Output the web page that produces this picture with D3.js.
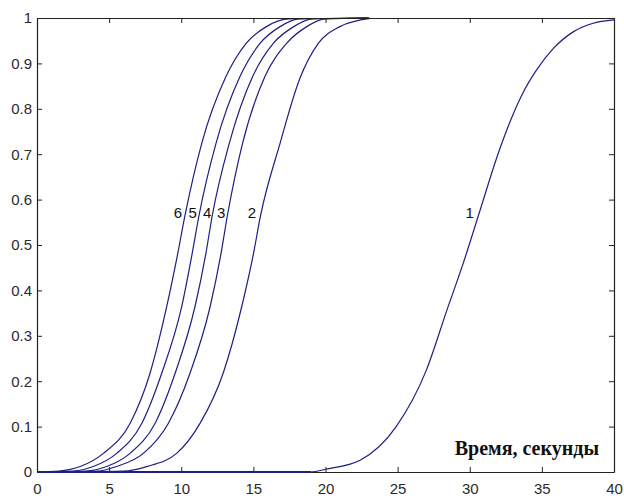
<!DOCTYPE html>
<html>
<head>
<meta charset="utf-8">
<script src="https://cdn.jsdelivr.net/npm/d3@7"></script>
<style>
  body { margin: 0; background: #fff; }
  svg { display: block; }
  .tick text { font-family: "Liberation Sans", Arial, sans-serif; font-size: 15px; fill: #2a2a2a; }
</style>
</head>
<body>
<div id="chart"></div>
<script>
// time (s), probability, one array per curve
var curve1 = [[0,0],[19,0],[20,0.006],[22.4,0.026],[24.9,0.1],[27,0.225],[28.4,0.355],[29.55,0.46],[30.7,0.575],[31.9,0.695],[32.8,0.772],[33.7,0.836],[34.6,0.884],[35.8,0.933],[37.2,0.97],[38.5,0.988],[40,0.996]];
var curve2 = [[0,0],[6,0.002],[7.6,0.012],[9.68,0.041],[11.3,0.107],[12.9,0.217],[14.19,0.364],[15,0.48],[15.5,0.565],[16.85,0.724],[18.2,0.865],[19.5,0.944],[21,0.981],[23.1,0.999]];
var curve3 = [[0,0],[4.2,0.002],[5.5,0.012],[7.37,0.041],[9.1,0.107],[10.6,0.217],[12,0.364],[12.75,0.48],[13.2,0.565],[14.25,0.724],[15.8,0.871],[17.3,0.944],[18.7,0.981],[20,0.998],[23,1]];
var curve4 = [[0,0],[3.4,0.002],[4.83,0.012],[6.45,0.041],[8.18,0.107],[9.57,0.217],[10.95,0.364],[11.7,0.48],[12.15,0.565],[13.33,0.724],[14.95,0.871],[16.38,0.944],[17.8,0.981],[19.1,0.998],[23,1]];
var curve5 = [[0,0],[2.5,0.002],[3.9,0.012],[5.52,0.041],[7.26,0.107],[8.64,0.217],[10.03,0.364],[10.75,0.48],[11.23,0.565],[12.41,0.724],[14.07,0.871],[15.46,0.944],[16.85,0.981],[18.2,0.998],[23,1]];
var curve6 = [[0,0],[1.5,0.002],[3,0.012],[4.6,0.041],[6.45,0.107],[7.83,0.217],[8.99,0.364],[9.75,0.48],[10.26,0.565],[11.42,0.724],[13.1,0.871],[14.5,0.944],[15.9,0.981],[17.5,0.998],[23,1]];
var curves = [curve1, curve2, curve3, curve4, curve5, curve6];

var curveLabels = ["1", "2", "3", "4", "5", "6"];
var labelX = [30.0, 14.9, 12.76, 11.8, 10.8, 9.77];
var labelY = 0.57;

var xTicks = [0, 5, 10, 15, 20, 25, 30, 35, 40];
var yTicks = [0, 0.1, 0.2, 0.3, 0.4, 0.5, 0.6, 0.7, 0.8, 0.9, 1];
var axisTitle = "Время, секунды";

var width = 624, height = 498;
var margin = {top: 18, right: 10, bottom: 26, left: 37};
var x0 = margin.left, x1 = width - margin.right, y0 = height - margin.bottom, y1 = margin.top;

var svg = d3.select("#chart").append("svg").attr("width", width).attr("height", height);
svg.append("rect").attr("width", width).attr("height", height).attr("fill", "#fff");

var x = d3.scaleLinear().domain([0, 40]).range([x0, x1]);
var y = d3.scaleLinear().domain([0, 1]).range([y0, y1]);

var lineColor = "#1c1f82";
var line = d3.line()
    .x(function(d) { return x(d[0]); })
    .y(function(d) { return y(d[1]); })
    .curve(d3.curveMonotoneX);

svg.append("g").selectAll("path")
    .data(curves)
    .enter()
    .append("path")
    .attr("d", line)
    .attr("fill", "none")
    .attr("stroke", lineColor)
    .attr("stroke-width", 1.2);

// MATLAB style box with inward ticks on all sides
var tickLen = 5;
var gx = svg.append("g").attr("transform", "translate(0," + y0 + ")")
    .call(d3.axisBottom(x).tickValues(xTicks).tickSizeInner(-tickLen).tickSizeOuter(0).tickPadding(9).tickFormat(d3.format("d")));
var gxTop = svg.append("g").attr("transform", "translate(0," + y1 + ")")
    .call(d3.axisTop(x).tickValues(xTicks).tickSizeInner(-tickLen).tickSizeOuter(0).tickFormat(""));
var gy = svg.append("g").attr("transform", "translate(" + x0 + ",0)")
    .call(d3.axisLeft(y).tickValues(yTicks).tickSizeInner(-tickLen).tickSizeOuter(0).tickPadding(5).tickFormat(function(d) { return d === 0 || d === 1 ? d3.format("d")(d) : d3.format(".1f")(d); }));
var gyRight = svg.append("g").attr("transform", "translate(" + x1 + ",0)")
    .call(d3.axisRight(y).tickValues(yTicks).tickSizeInner(-tickLen).tickSizeOuter(0).tickFormat(""));

[gx, gxTop, gy, gyRight].forEach(function(g) {
  g.select(".domain").attr("stroke", "#222").attr("stroke-width", 1.2);
  g.selectAll(".tick line").attr("stroke", "#222");
});
gx.selectAll(".tick text").attr("dy", "0.85em");

// baseline of curve 1 lies on the axis
svg.append("path")
    .attr("d", line(curve1.slice(0, 2)))
    .attr("stroke", lineColor)
    .attr("stroke-width", 2.2);

svg.append("g").selectAll("text")
    .data(curveLabels)
    .enter()
    .append("text")
    .attr("x", function(d, i) { return x(labelX[i]); })
    .attr("y", y(labelY))
    .attr("dy", "0.35em")
    .attr("text-anchor", "middle")
    .style("font-family", "Liberation Sans, Arial, sans-serif")
    .style("font-size", "15px")
    .style("fill", "#111")
    .text(function(d) { return d; });

svg.append("text")
    .attr("x", 599)
    .attr("y", 455)
    .attr("text-anchor", "end")
    .style("font-family", "Liberation Serif, Times New Roman, serif")
    .style("font-weight", "bold")
    .style("font-size", "20px")
    .style("fill", "#111")
    .text(axisTitle);
</script>
</body>
</html>
